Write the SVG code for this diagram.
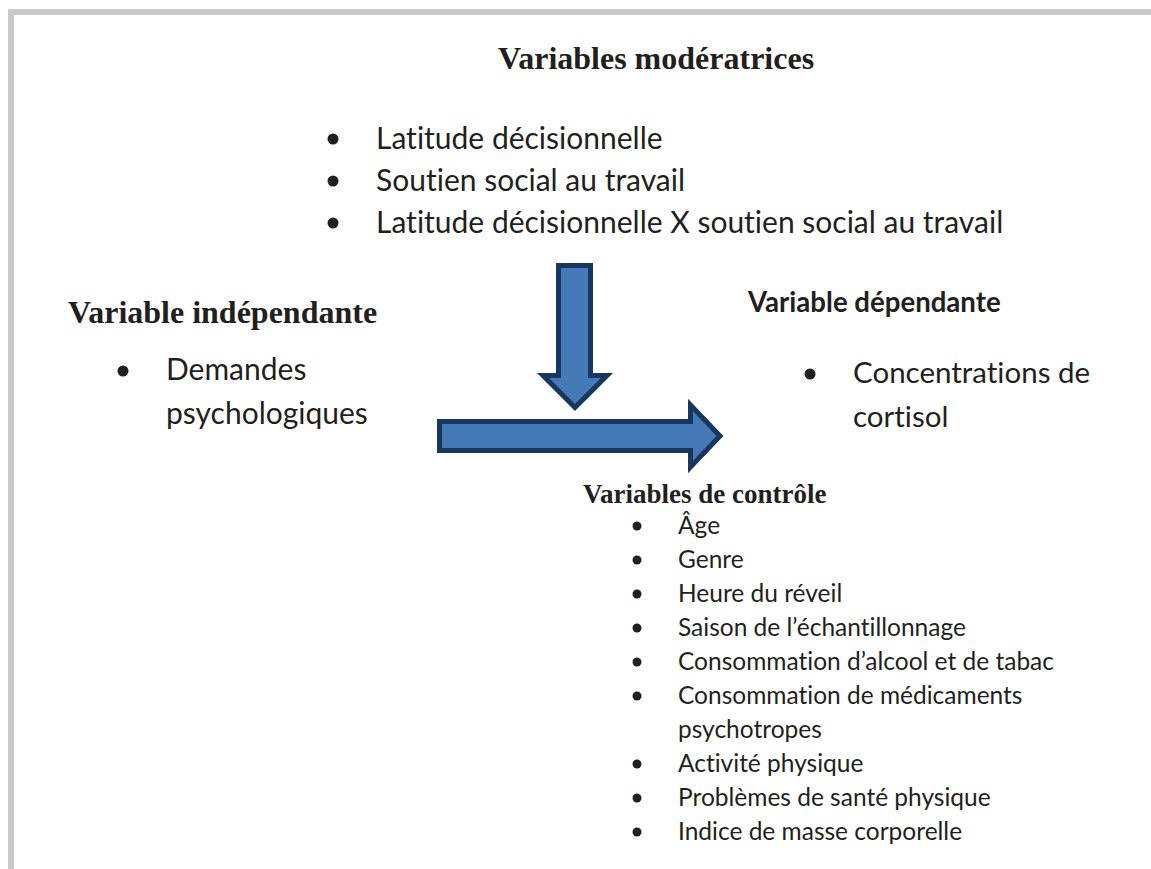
<svg xmlns="http://www.w3.org/2000/svg" width="1151" height="869" viewBox="0 0 1151 869">
<style>
.ttl{font-family:"Liberation Serif","Times New Roman",serif;font-weight:bold;fill:#231f20}
.txt{font-family:Lato,"Liberation Sans",sans-serif;fill:#231f20;font-variant-ligatures:none}
.big{font-size:30px}
.sm{font-size:24.5px}
.dot{fill:#231f20}
.arrow{fill:#4679b8;stroke:#17375e;stroke-width:5;stroke-linejoin:miter}
</style>
<rect width="1151" height="869" fill="#ffffff"/>
<path d="M11,869 V12 H1151" fill="none" stroke="#c8c8c8" stroke-width="6"/>

<g id="moderators">
<text class="ttl" x="498" y="69" font-size="32">Variables modératrices</text>
<circle class="dot" cx="333" cy="139" r="5.5"/>
<text class="txt big" x="376" y="149">Latitude décisionnelle</text>
<circle class="dot" cx="333" cy="181" r="5.5"/>
<text class="txt big" x="376" y="191">Soutien social au travail</text>
<circle class="dot" cx="333" cy="223" r="5.5"/>
<text class="txt big" x="376" y="233">Latitude décisionnelle X soutien social au travail</text>
</g>

<g id="independent">
<text class="ttl" x="68" y="323" font-size="32">Variable indépendante</text>
<circle class="dot" cx="123" cy="371" r="5.5"/>
<text class="txt big" x="166" y="380">Demandes</text>
<text class="txt big" x="166" y="424">psychologiques</text>
</g>

<g id="dependent">
<text class="txt" x="748" y="312" font-size="27.6" font-weight="bold">Variable dépendante</text>
<circle class="dot" cx="810" cy="374" r="5.5"/>
<text class="txt" x="853" y="383" font-size="29.5">Concentrations de</text>
<text class="txt" x="853" y="427" font-size="29.5">cortisol</text>
</g>

<g id="controls">
<text class="ttl" x="583" y="503" font-size="27">Variables de contrôle</text>
<g class="dot">
<circle cx="637" cy="526" r="4.5"/>
<circle cx="637" cy="560" r="4.5"/>
<circle cx="637" cy="594" r="4.5"/>
<circle cx="637" cy="628" r="4.5"/>
<circle cx="637" cy="662" r="4.5"/>
<circle cx="637" cy="696" r="4.5"/>
<circle cx="637" cy="764" r="4.5"/>
<circle cx="637" cy="798" r="4.5"/>
<circle cx="637" cy="832" r="4.5"/>
</g>
<text class="txt sm" x="678" y="534">Âge</text>
<text class="txt sm" x="678" y="568">Genre</text>
<text class="txt sm" x="678" y="602">Heure du réveil</text>
<text class="txt sm" x="678" y="636">Saison de l’échantillonnage</text>
<text class="txt sm" x="678" y="670">Consommation d’alcool et de tabac</text>
<text class="txt sm" x="678" y="704">Consommation de médicaments</text>
<text class="txt sm" x="678" y="738">psychotropes</text>
<text class="txt sm" x="678" y="772">Activité physique</text>
<text class="txt sm" x="678" y="806">Problèmes de santé physique</text>
<text class="txt sm" x="678" y="840">Indice de masse corporelle</text>
</g>

<g id="connectors">
<polygon class="arrow" points="558.5,265.5 590.5,265.5 590.5,375.5 607,375.5 575,407.5 543,375.5 558.5,375.5"/>
<polygon class="arrow" points="439.5,421.5 690.5,421.5 690.5,405 720,436 690.5,467 690.5,450.5 439.5,450.5"/>
</g>
</svg>
